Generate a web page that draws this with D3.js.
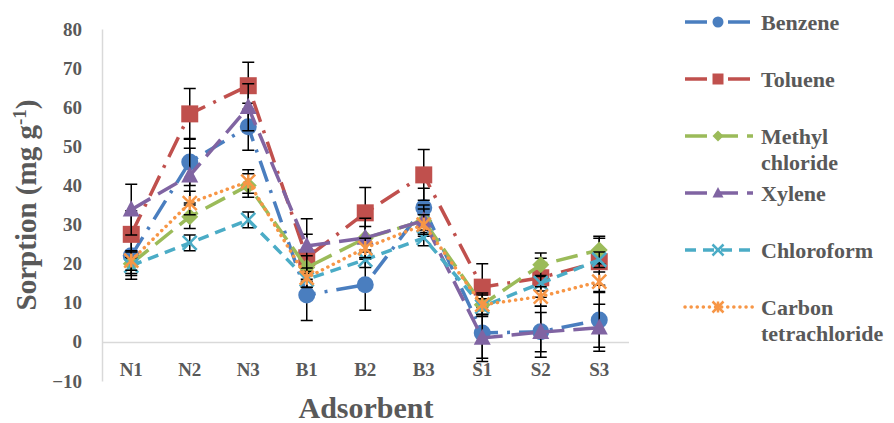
<!DOCTYPE html>
<html>
<head>
<meta charset="utf-8">
<script src="https://cdn.jsdelivr.net/npm/d3@7"></script>
<style>
body { margin: 0; background: #fff; }
text { font-family: "Liberation Serif", "DejaVu Serif", serif; font-weight: bold; fill: #595959; }
</style>
</head>
<body>
<svg width="894" height="423"></svg>
<script>
var categories = ["N1", "N2", "N3", "B1", "B2", "B3", "S1", "S2", "S3"]
var yTicks = [-10, 0, 10, 20, 30, 40, 50, 60, 70, 80]

var seriesNames = ["Benzene", "Toluene", "Methyl chloride", "Xylene", "Chloroform", "Carbon tetrachloride"]
var benzene = [22, 46, 55, 12, 14.6, 34.3, 2.3, 2.6, 5.6]
var toluene = [27.5, 58.3, 65.5, 21.5, 33, 42.7, 14, 16.4, 20.5]
var methylChloride = [20, 32, 40, 19, 26.5, 31, 9.5, 19.7, 23.5]
var xylene = [33.8, 42.5, 60, 24.5, 26.6, 31, 1, 2.5, 3.6]
var chloroform = [19.5, 25.3, 31.2, 16, 21, 26.6, 9, 15, 21]
var carbonTet = [20.8, 35.5, 41, 16.4, 24, 30, 9.5, 11.6, 15.4]

var benzeneErr = [6, 6, 6, 6.5, 6.5, 5, 6.5, 6.5, 7]
var tolueneErr = [6, 6.5, 6, 6, 6.5, 6.5, 6, 5, 6]
var methylErr = [3, 3, 3, 3, 3, 3, 3, 3, 3.5]
var xyleneErr = [6.5, 7, 6, 7, 5, 4, 6, 5, 6]
var chloroformErr = [2, 2, 2, 2, 2, 2, 2, 2, 2]
var carbonTetErr = [2.5, 3, 3, 2.5, 2.5, 2.5, 2.5, 2.5, 2.5]

var colors = ["#4a7ebf", "#c0504d", "#9bbb59", "#8064a2", "#4bacc6", "#f79646"]
var dashes = ["22,9,3,9", "22,9,3,9", "22,9", "22,9", "11,7", "0.1,6"]
var markers = ["circle", "square", "diamond", "triangle", "x", "star"]

var values = [benzene, toluene, methylChloride, xylene, chloroform, carbonTet]
var errors = [benzeneErr, tolueneErr, methylErr, xyleneErr, chloroformErr, carbonTetErr]

var svg = d3.select("svg")

var x = d3.scaleBand().domain(categories).range([102, 628.5])
var y = d3.scaleLinear().domain([-10, 80]).range([381, 29])

// axes
var yAxis = svg.append("g").attr("transform", "translate(102,0)")
	.call(d3.axisLeft(y).tickValues(yTicks).tickSize(0).tickPadding(20).tickSizeOuter(0))
yAxis.select(".domain").attr("stroke", "#d9d9d9").attr("stroke-width", 1.5)
yAxis.selectAll("text").style("font-size", "19px").attr("fill", "#595959")
	.style("font-family", "Liberation Serif").style("font-weight", "bold")

var xAxis = svg.append("g").attr("transform", "translate(0," + y(0) + ")")
	.call(d3.axisBottom(x).tickSize(0).tickPadding(21).tickSizeOuter(0))
xAxis.select(".domain").attr("stroke", "#d9d9d9").attr("stroke-width", 1.5)
xAxis.selectAll("text").style("font-size", "19px").attr("fill", "#595959")
	.style("font-family", "Liberation Serif").style("font-weight", "bold")

svg.append("text").attr("x", 366).attr("y", 418).attr("text-anchor", "middle")
	.style("font-size", "30px").text("Adsorbent")

var yTitle = svg.append("text").attr("transform", "translate(36,205) rotate(-90)")
	.attr("text-anchor", "middle").style("font-size", "29px")
yTitle.append("tspan").text("Sorption (mg g")
yTitle.append("tspan").attr("dy", -10).style("font-size", "19px").text("-1")
yTitle.append("tspan").attr("dy", 10).text(")")

function markerPath(type, s) {
	var h = s / 2
	if (type == "circle") return d3.symbol().type(d3.symbolCircle).size(Math.PI * h * h)()
	if (type == "square") return "M" + -h + "," + -h + "H" + h + "V" + h + "H" + -h + "Z"
	if (type == "diamond") return "M0," + -h + "L" + h + ",0L0," + h + "L" + -h + ",0Z"
	if (type == "triangle") return "M0," + (-h * 1.1) + "L" + h + "," + (h * 0.8) + "L" + -h + "," + (h * 0.8) + "Z"
	if (type == "x") return "M" + -h + "," + -h + "L" + h + "," + h + "M" + h + "," + -h + "L" + -h + "," + h
	return "M" + -h + "," + -h + "L" + h + "," + h + "M" + h + "," + -h + "L" + -h + "," + h + "M0," + -h + "L0," + h
}

function drawMarker(g, type, color, s) {
	var p = g.append("path").attr("d", markerPath(type, s))
	if (type == "x" || type == "star") {
		p.attr("fill", "none").attr("stroke", color).attr("stroke-width", 2.5)
	} else {
		p.attr("fill", color)
	}
}

var line = d3.line()
	.x(function(d, i) { return x(categories[i]) + x.bandwidth() / 2 })
	.y(function(d) { return y(d) })

values.forEach(function(vals, si) {
	var g = svg.append("g")
	// error bars
	vals.forEach(function(v, i) {
		var cx = x(categories[i]) + x.bandwidth() / 2
		var e = errors[si][i]
		g.append("path")
			.attr("d", "M" + cx + "," + y(v + e) + "V" + y(v - e)
				+ "M" + (cx - 6) + "," + y(v + e) + "H" + (cx + 6)
				+ "M" + (cx - 6) + "," + y(v - e) + "H" + (cx + 6))
			.attr("stroke", "#000").attr("stroke-width", 1.5).attr("fill", "none")
	})
	g.append("path").datum(vals).attr("d", line)
		.attr("fill", "none").attr("stroke", colors[si]).attr("stroke-width", 3.5)
		.attr("stroke-dasharray", dashes[si])
		.attr("stroke-linecap", si == 5 ? "round" : "butt")
	vals.forEach(function(v, i) {
		var m = g.append("g").attr("transform", "translate(" + (x(categories[i]) + x.bandwidth() / 2) + "," + y(v) + ")")
		drawMarker(m, markers[si], colors[si], si >= 4 ? 14 : 17)
	})
})

// legend
var legendNames = [["Benzene"], ["Toluene"], ["Methyl", "chloride"], ["Xylene"], ["Chloroform"], ["Carbon", "tetrachloride"]]
legendNames.forEach(function(lines, i) {
	var ly = 22 + i * 57
	var g = svg.append("g")
	g.append("line").attr("x1", 685).attr("x2", 753).attr("y1", ly).attr("y2", ly)
		.attr("stroke", colors[i]).attr("stroke-width", 3.5)
		.attr("stroke-dasharray", dashes[i])
		.attr("stroke-linecap", i == 5 ? "round" : "butt")
	var m = g.append("g").attr("transform", "translate(718," + ly + ")")
	drawMarker(m, markers[i], colors[i], 11)
	var t = g.append("text").attr("x", 761).attr("y", ly + 7.5).style("font-size", "22px")
	lines.forEach(function(s, k) {
		t.append("tspan").attr("x", 761).attr("dy", k == 0 ? 0 : 26).text(s)
	})
})
</script>
</body>
</html>
